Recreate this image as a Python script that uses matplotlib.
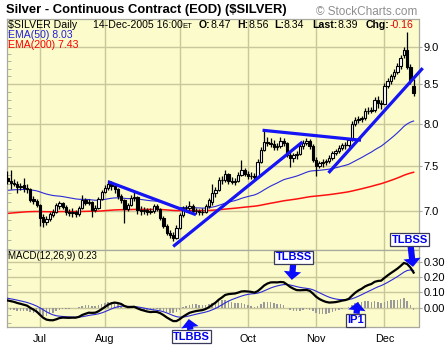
import numpy as np
import pandas as pd
import matplotlib
matplotlib.use("Agg")
import matplotlib.pyplot as plt
from matplotlib.ticker import FixedLocator, FormatStrFormatter, NullFormatter

plt.rcParams['font.family'] = ['Liberation Sans', 'DejaVu Sans']

# ---- daily OHLC for $SILVER, 17-Jun-2005 .. 14-Dec-2005 ----
opens = [7.36, 7.33, 7.31, 7.30, 7.26, 7.28, 7.25, 7.24, 7.13, 7.11,
         7.06, 6.94, 6.88, 6.91, 6.96, 6.99, 7.05, 7.09, 7.04, 6.99,
         6.98, 6.99, 6.97, 7.03, 7.12, 7.09, 7.10, 7.01, 7.03, 7.13,
         7.21, 7.25, 7.30, 7.27, 7.24, 7.16, 7.12, 7.02, 7.06, 7.14,
         7.15, 7.01, 7.00, 7.01, 6.99, 7.00, 7.05, 7.02, 6.93, 6.84,
         6.77, 6.75, 6.72, 6.82, 6.96, 7.03, 7.03, 7.05, 7.00, 7.00,
         6.99, 6.99, 7.05, 7.10, 7.20, 7.23, 7.34, 7.34, 7.41, 7.33,
         7.32, 7.33, 7.40, 7.45, 7.41, 7.39, 7.39, 7.37, 7.55, 7.69,
         7.78, 7.77, 7.76, 7.72, 7.73, 7.79, 7.77, 7.63, 7.59, 7.62,
         7.64, 7.73, 7.77, 7.79, 7.73, 7.57, 7.50, 7.53, 7.55, 7.56,
         7.59, 7.65, 7.67, 7.71, 7.74, 7.74, 7.80, 8.00, 8.05, 8.06,
         8.07, 8.16, 8.16, 8.17, 8.30, 8.26, 8.25, 8.48, 8.54, 8.60,
         8.66, 8.74, 8.88, 8.95, 8.72, 8.47]
highs = [7.44, 7.45, 7.35, 7.33, 7.31, 7.36, 7.30, 7.25, 7.16, 7.13,
         7.08, 6.97, 6.95, 6.99, 7.02, 7.09, 7.11, 7.10, 7.06, 7.02,
         7.03, 7.01, 7.05, 7.17, 7.14, 7.13, 7.11, 7.06, 7.15, 7.23,
         7.28, 7.34, 7.33, 7.29, 7.25, 7.18, 7.13, 7.09, 7.17, 7.21,
         7.16, 7.05, 7.04, 7.03, 7.03, 7.08, 7.07, 7.03, 6.95, 6.86,
         6.80, 6.78, 6.85, 6.98, 7.05, 7.06, 7.11, 7.07, 7.03, 7.02,
         7.03, 7.07, 7.14, 7.30, 7.26, 7.37, 7.38, 7.45, 7.42, 7.37,
         7.36, 7.43, 7.57, 7.47, 7.44, 7.43, 7.42, 7.58, 7.72, 7.91,
         7.84, 7.83, 7.80, 7.77, 7.84, 7.83, 7.78, 7.66, 7.65, 7.67,
         7.76, 7.80, 7.83, 7.81, 7.75, 7.60, 7.56, 7.58, 7.58, 7.62,
         7.67, 7.70, 7.74, 7.77, 7.78, 7.83, 8.03, 8.08, 8.10, 8.10,
         8.19, 8.21, 8.21, 8.33, 8.34, 8.30, 8.52, 8.58, 8.63, 8.70,
         8.78, 8.88, 8.99, 9.21, 8.77, 8.56]
lows = [7.30, 7.24, 7.27, 7.20, 7.23, 7.21, 7.20, 7.10, 7.08, 7.04,
        6.84, 6.83, 6.85, 6.89, 6.94, 6.98, 7.02, 7.02, 6.96, 6.95,
        6.94, 6.94, 6.95, 7.02, 7.06, 7.06, 6.94, 6.99, 7.02, 7.12,
        7.19, 7.23, 7.23, 7.20, 7.13, 7.09, 6.87, 7.00, 7.05, 7.11,
        6.97, 6.96, 6.97, 6.96, 6.97, 6.98, 7.00, 6.90, 6.82, 6.75,
        6.72, 6.69, 6.71, 6.81, 6.94, 6.99, 7.00, 6.98, 6.97, 6.96,
        6.96, 6.98, 7.03, 7.06, 7.15, 7.22, 7.29, 7.32, 7.30, 7.29,
        7.28, 7.32, 7.38, 7.38, 7.35, 7.35, 7.34, 7.36, 7.53, 7.67,
        7.73, 7.72, 7.68, 7.68, 7.71, 7.73, 7.60, 7.49, 7.55, 7.58,
        7.62, 7.70, 7.74, 7.70, 7.54, 7.39, 7.47, 7.49, 7.51, 7.53,
        7.57, 7.62, 7.65, 7.68, 7.70, 7.72, 7.79, 7.97, 8.01, 8.02,
        8.05, 8.12, 8.13, 8.15, 8.20, 8.18, 8.24, 8.45, 8.50, 8.57,
        8.63, 8.70, 8.85, 8.70, 8.50, 8.34]
closes = [7.33, 7.31, 7.30, 7.26, 7.27, 7.25, 7.24, 7.12, 7.11, 7.06,
          6.93, 6.88, 6.91, 6.97, 6.99, 7.06, 7.09, 7.04, 6.99, 6.98,
          6.99, 6.97, 7.03, 7.12, 7.09, 7.10, 7.01, 7.03, 7.13, 7.21,
          7.25, 7.30, 7.27, 7.24, 7.16, 7.12, 7.02, 7.06, 7.14, 7.15,
          7.01, 7.00, 7.01, 6.99, 7.00, 7.05, 7.02, 6.93, 6.84, 6.77,
          6.75, 6.72, 6.82, 6.96, 7.03, 7.03, 7.05, 7.00, 7.00, 6.99,
          6.99, 7.05, 7.12, 7.20, 7.23, 7.34, 7.34, 7.41, 7.33, 7.32,
          7.33, 7.40, 7.45, 7.41, 7.39, 7.39, 7.37, 7.55, 7.69, 7.78,
          7.77, 7.76, 7.72, 7.73, 7.79, 7.77, 7.63, 7.59, 7.62, 7.64,
          7.73, 7.77, 7.79, 7.73, 7.57, 7.50, 7.53, 7.55, 7.56, 7.59,
          7.65, 7.67, 7.71, 7.74, 7.74, 7.80, 8.00, 8.05, 8.06, 8.07,
          8.16, 8.16, 8.17, 8.30, 8.26, 8.25, 8.48, 8.54, 8.60, 8.66,
          8.74, 8.85, 8.96, 8.73, 8.55, 8.39]

holidays = ['2005-07-04', '2005-09-05', '2005-11-24']
dates = pd.bdate_range('2005-06-17', '2005-12-14').drop(pd.to_datetime(holidays))

# indicator values carried in from the bars before the window
ema50_start = 7.22
ema200_start = 6.97
ema12_start = 7.32
ema26_start = 7.27
signal_start = 0.065

price_ticks = [7.0, 7.5, 8.0, 8.5, 9.0]
macd_ticks = [0.0, 0.1, 0.2, 0.3]
price_range = (6.594, 9.39)
macd_range = (-0.126, 0.376)
hidden_month = 'Sep'   # its label sits under the TLBBS call-out

# hand-drawn trend lines: (bar index, price) pairs
trend_lines = [
    ((31.0, 7.32), (58.0, 6.96)),
    ((51.0, 6.63), (90.8, 7.78)),
    ((78.5, 7.92), (108.8, 7.80)),
    ((98.8, 7.42), (127.8, 8.71)),
]
# signal call-outs on the MACD panel: text, bar index, MACD level, box offset (pt)
callouts = [
    ('TLBBS', 55.8, -0.074, (1.8, -12.6)),
    ('TLBSS', 87.5, 0.181, (1.4, 16.2)),
    ('TLBSS', 124.8, 0.266, (-2.2, 19.6)),
    ('IP1', 107.8, 0.037, (-1.4, -13.3)),
]


def ema(values, span, start):
    a = 2.0 / (span + 1)
    out = []
    prev = start
    for v in values:
        prev = prev + a * (v - prev)
        out.append(prev)
    return np.array(out)


c = np.array(closes)
o = np.array(opens)
h = np.array(highs)
l = np.array(lows)
x = np.arange(len(c))

ema50 = ema(c, 50, ema50_start)
ema200 = ema(c, 200, ema200_start)
macd = ema(c, 12, ema12_start) - ema(c, 26, ema26_start)
signal = ema(macd, 9, signal_start)
hist = macd - signal

month_first = [i for i in range(len(dates)) if i == 0 or dates[i].month != dates[i - 1].month][1:]
month_names = [dates[i].strftime('%b') for i in month_first]
month_labels = ['' if m == hidden_month else m for m in month_names]

W, H = 446, 347
BG = '#fbfbcb'
GRID = '#cbc79c'
EDGE = '#a9a9a0'


def rect(x0, y0, x1, y1):
    return [x0 / W, 1 - y1 / H, (x1 - x0) / W, (y1 - y0) / H]


fig = plt.figure(figsize=(W / 100, H / 100), dpi=100)
fig.patch.set_facecolor('white')
ax = fig.add_axes(rect(6.5, 19, 418.5, 250))
mx = fig.add_axes(rect(6.5, 250, 418.5, 327), sharex=ax)

for a in (ax, mx):
    a.set_facecolor(BG)
    for s in a.spines.values():
        s.set_color(EDGE)
        s.set_linewidth(0.9)
    a.set_xticks(month_first)
    a.grid(True, which='major', color=GRID, lw=1.0, zorder=0)
    a.set_axisbelow(True)

ax.set_xlim(-0.3, 126.5)

# ---- price panel ----
ax.set_yscale('log')
ax.set_ylim(*price_range)
ax.yaxis.set_major_locator(FixedLocator(price_ticks))
ax.yaxis.set_major_formatter(FormatStrFormatter('%.1f'))
ax.yaxis.set_minor_locator(FixedLocator(np.round(np.arange(6.6, 9.4, 0.1), 2)))
ax.yaxis.set_minor_formatter(NullFormatter())
ax.tick_params(axis='y', which='major', left=False, right=True, labelleft=False,
               labelright=True, direction='out', length=2, color=EDGE,
               labelsize=8, pad=1.5)
ax.tick_params(axis='y', which='minor', left=True, right=False, direction='in',
               length=3, color=EDGE)
ax.tick_params(axis='x', bottom=False, labelbottom=False)

up = c >= o
ax.vlines(x, l, h, color='black', lw=0.9, zorder=3)
ax.bar(x, np.abs(c - o), bottom=np.minimum(o, c), width=0.72,
       color=np.where(up, 'white', 'black'), edgecolor='black', lw=0.8, zorder=4)
ax.hlines(c[c == o], x[c == o] - 0.36, x[c == o] + 0.36, color='black', lw=0.9, zorder=4)

ax.plot(x, ema50, color='#2b2bd9', lw=0.8, zorder=2)
ax.plot(x, ema200, color='#ff1010', lw=1.1, zorder=2)

for (x0, y0), (x1, y1) in trend_lines:
    ax.plot([x0, x1], [y0, y1], color='#1414f5', lw=2.3, solid_capstyle='butt',
            zorder=6, clip_on=False)


def ax_pos(px, py):
    return (px - 6.5) / 412, (250 - py) / 231


INFO_SIZE = 7.6


def chain(prev, s, **kw):
    return ax.annotate(s, xy=(1, 0), xycoords=prev, va='bottom', ha='left',
                       fontsize=kw.pop('fontsize', INFO_SIZE), **kw)


info = dict(fontsize=INFO_SIZE, va='center', ha='left', transform=ax.transAxes, zorder=8)
ax.text(*ax_pos(8, 25), r'\$SILVER Daily', **info)
t = ax.text(*ax_pos(93, 25), dates[-1].strftime('%d-%b-%Y') + ' 16:00', **info)
chain(t, 'ET', fontsize=5.5)
fields = [('O:', o[-1], 199), ('H:', h[-1], 237), ('L:', l[-1], 274), ('Last:', c[-1], 312)]
for lab, val, px in fields:
    t = ax.text(*ax_pos(px, 25), lab, fontweight='bold', **info)
    chain(t, f'{val:.2f}')
t = ax.text(*ax_pos(366, 25), 'Chg:', fontweight='bold', **info)
chain(t, f'{c[-1] - c[-2]:.2f}', color='#e00000')
ax.text(*ax_pos(8, 35), f'EMA(50) {ema50[-1]:.2f}', color='#2020e0', **info)
ax.text(*ax_pos(8, 45), f'EMA(200) {ema200[-1]:.2f}', color='#ff0000', **info)

# ---- MACD panel ----
mx.set_ylim(*macd_range)
mx.yaxis.set_major_locator(FixedLocator(macd_ticks))
mx.yaxis.set_major_formatter(FormatStrFormatter('%.2f'))
mx.yaxis.set_minor_locator(FixedLocator(np.round(np.arange(-0.1, 0.4, 0.05), 2)))
mx.yaxis.set_minor_formatter(NullFormatter())
mx.tick_params(axis='y', which='major', left=False, right=True, labelleft=False,
               labelright=True, direction='out', length=2, color=EDGE,
               labelsize=8, pad=1.5)
mx.tick_params(axis='y', which='minor', left=True, right=False, direction='in',
               length=3, color=EDGE)
mx.tick_params(axis='x', bottom=False, labelsize=7.8, pad=1.5)
mx.set_xticklabels(month_labels)

mx.bar(x, hist, width=0.45, color='#9a9a9a', zorder=2)
mx.plot(x, signal, color='#2b2bd9', lw=0.8, zorder=3)
mx.plot(x, macd, color='black', lw=1.6, zorder=4)
mx.text(1.5 / 412, (327 - 256) / 77, f'MACD(12,26,9) {macd[-1]:.2f}', fontsize=7,
        va='center', ha='left', transform=mx.transAxes)

for label, bi, lvl, off in callouts:
    mx.annotate(label, xy=(bi, lvl), xycoords='data', xytext=off,
                textcoords='offset points', ha='center', va='center', fontsize=8,
                fontweight='bold', color='#0000ee', annotation_clip=False, zorder=10,
                bbox=dict(boxstyle='square,pad=0.12', fc='white', ec='#3a3a5a', lw=0.9),
                arrowprops=dict(arrowstyle='simple,head_length=0.6,head_width=1.25,tail_width=0.45',
                                fc='#0a0aff', ec='none', shrinkA=0, shrinkB=0,
                                mutation_scale=10))

# ---- header ----
fig.text(6 / W, 1 - 10.5 / H, 'Silver - Continuous Contract (EOD) ($SILVER)',
         fontsize=9.4, fontweight='bold', va='center', ha='left')
fig.text(417 / W, 1 - 12 / H, '\u00a9 StockCharts.com', fontsize=8.5,
         color='#8e8e8e', va='center', ha='right')

fig.savefig('out.png', dpi=100, facecolor='white')
